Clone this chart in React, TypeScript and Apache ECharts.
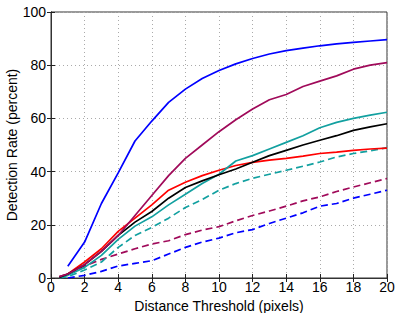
import React, { useEffect, useRef } from "react";
import * as echarts from "echarts";

const xValues = [0.5, 1, 2, 3, 4, 5, 6, 7, 8, 9, 10, 11, 12, 13, 14, 15, 16, 17, 18, 19, 20];

const blueSolid = [null, 4.4, 13.5, 28, 39.5, 51.5, 59, 66, 71, 75, 78, 80.5, 82.5, 84.2, 85.5, 86.4, 87.3, 88, 88.6, 89.1, 89.6];
const purpleSolid = [0.5, 1.5, 5, 10, 16, 23.5, 31, 38.5, 45, 50, 55, 59.5, 63.5, 67, 69, 72, 74, 76, 78.5, 80, 81];
const tealSolid = [0.2, 1, 4, 8.5, 14.5, 19.5, 23, 27.5, 31.5, 35.5, 39, 44, 46, 48.5, 51, 53.5, 56.5, 58.5, 60, 61.2, 62.3];
const blackSolid = [0.2, 1.5, 5, 10, 16, 21, 25, 30, 34, 36.5, 38.8, 41, 43.5, 46, 48, 50, 51.8, 53.5, 55.5, 56.8, 58];
const redSolid = [0.2, 1.5, 6, 11, 17.5, 22.5, 27.5, 33, 36, 38.5, 40.5, 42.3, 43.5, 44.3, 45, 45.8, 46.8, 47.3, 48, 48.5, 48.8];
const tealDashed = [0, 0.5, 3, 6, 11.5, 16, 19, 22.5, 26.5, 29.5, 33, 35.5, 37.5, 39, 40.5, 42, 43.6, 45.5, 46.8, 47.8, 49];
const purpleDashed = [0.5, 1.5, 4.5, 7, 9, 11, 12.8, 14, 16.3, 18, 19.3, 21.5, 23.5, 25.2, 27, 29, 30.5, 32.5, 34.2, 35.8, 37.4];
const blueDashed = [null, 0, 1, 2.5, 4.5, 5.5, 6.5, 9, 11.5, 13.5, 15, 17, 18.2, 20.5, 22.5, 24.5, 27, 28, 30, 31.5, 33];

const BLUE = "#0000ff";
const PURPLE = "#a00a5a";
const TEAL = "#12a0a0";
const BLACK = "#000000";
const RED = "#ff0000";

function pairs(vals: (number | null)[]) {
  const out: [number, number][] = [];
  vals.forEach((v, i) => {
    if (v !== null) out.push([xValues[i], v]);
  });
  return out;
}

export default function App() {
  const ref = useRef<HTMLDivElement>(null);
  useEffect(() => {
    if (!ref.current) return;
    const chart = echarts.init(ref.current, null, { renderer: "svg" });
    const font = "Liberation Sans, Arial, sans-serif";
    const mk = (data: (number | null)[], color: string, dashed: boolean) => ({
      type: "line",
      data: pairs(data),
      showSymbol: false,
      symbol: "none",
      lineStyle: { color, width: 1.7, type: dashed ? [7, 4] : "solid" },
      xAxisIndex: 0,
      yAxisIndex: 0,
    });
    const tickStyle = { show: true, inside: true, length: 4, lineStyle: { color: "#222", width: 1 } };
    chart.setOption({
      animation: false,
      grid: {
        left: 51, right: 12, top: 12, bottom: 35, show: true, borderColor: "#333", borderWidth: 1,
        backgroundColor: "#fff", containLabel: false, outerBoundsMode: "none",
      },
      xAxis: [
        {
          type: "value", min: 0, max: 20, interval: 2, position: "bottom",
          name: "Distance Threshold (pixels)", nameLocation: "middle", nameGap: 18,
          nameTextStyle: { fontFamily: font, fontSize: 14, color: "#000" },
          axisLine: { show: true, lineStyle: { color: "#333" } },
          axisTick: tickStyle,
          axisLabel: { fontFamily: font, fontSize: 14, color: "#000", margin: 2 },
          splitLine: { show: true, lineStyle: { color: "#aaa", type: [1, 3], width: 1 } },
        },
        {
          type: "value", min: 0, max: 20, interval: 2, position: "top",
          axisLine: { show: true, lineStyle: { color: "#333" } },
          axisTick: tickStyle, axisLabel: { show: false }, splitLine: { show: false },
        },
      ],
      yAxis: [
        {
          type: "value", min: 0, max: 100, interval: 20, position: "left",
          name: "Detection Rate (percent)", nameLocation: "middle", nameGap: 32, nameMoveOverlap: false,
          nameTextStyle: { fontFamily: font, fontSize: 14, color: "#000" },
          axisLine: { show: true, lineStyle: { color: "#333" } },
          axisTick: tickStyle,
          axisLabel: { fontFamily: font, fontSize: 14, color: "#000", margin: 5 },
          splitLine: { show: true, lineStyle: { color: "#aaa", type: [1, 3], width: 1 } },
        },
        {
          type: "value", min: 0, max: 100, interval: 20, position: "right",
          axisLine: { show: true, lineStyle: { color: "#333" } },
          axisTick: tickStyle, axisLabel: { show: false }, splitLine: { show: false },
        },
      ],
      series: [
        mk(blueDashed, BLUE, true),
        mk(purpleDashed, PURPLE, true),
        mk(tealDashed, TEAL, true),
        mk(redSolid, RED, false),
        mk(tealSolid, TEAL, false),
        mk(blackSolid, BLACK, false),
        mk(purpleSolid, PURPLE, false),
        mk(blueSolid, BLUE, false),
      ],
    });
    return () => chart.dispose();
  }, []);
  return <div ref={ref} style={{ position: "fixed", left: 0, top: 0, width: 399, height: 313, background: "#fff" }} />;
}
